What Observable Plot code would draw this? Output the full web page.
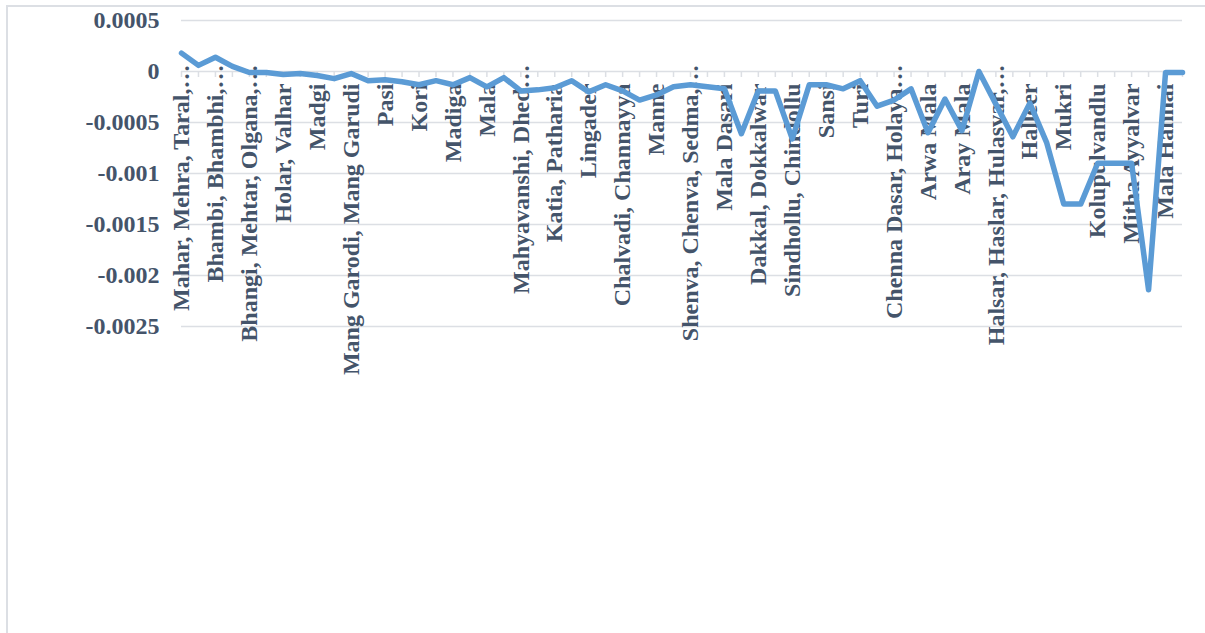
<!DOCTYPE html>
<html>
<head>
<meta charset="utf-8">
<script src="https://cdn.jsdelivr.net/npm/d3@7"></script>
<script src="https://cdn.jsdelivr.net/npm/@observablehq/plot@0.6"></script>
<style>
  html, body { margin: 0; padding: 0; background: #ffffff; }
  #wrap { position: relative; width: 1205px; height: 633px; overflow: hidden; }
  #wrap svg { position: absolute; left: 0; top: 0; }
  #border {
    position: absolute; left: 6px; top: 5px; width: 1210px; height: 640px;
    border-left: 2px solid #dcdfe4; border-top: 2px solid #dcdfe4;
    pointer-events: none;
  }
</style>
</head>
<body>
<div id="wrap"><div id="border"></div></div>
<script>
// Caste groups along the category axis (only every second one is labelled)
const categories = [
  "Mahar, Mehra, Taral,…", "Mang, Matang, Minimadig", "Bhambi, Bhambhi,…", "Dhor, Kakkayya, Kankayya",
  "Bhangi, Mehtar, Olgana,…", "Garoda, Garo", "Holar, Valhar", "Meghval, Menghvar",
  "Madgi", "Balahi, Balai", "Mang Garodi, Mang Garudi", "Bakad, Bant",
  "Pasi", "Vankar, Maru Vankar", "Kori", "Tirgar, Tirbanda",
  "Madiga", "Ager", "Mala", "Koli Dhor, Tankri",
  "Mahyavanshi, Dhed…", "Bahna, Bahana", "Katia, Patharia", "Basor, Burud",
  "Lingader", "Mala Sale, Netkani", "Chalvadi, Channayya", "Khangar, Kanera",
  "Manne", "Ganda, Gandi", "Shenva, Chenva, Sedma,…", "Chikwan, Chikvi",
  "Mala Dasari", "Mala Jangam", "Dakkal, Dokkalwar", "Nadia, Hadi",
  "Sindhollu, Chindollu", "Chuhra", "Sansi", "Mala Masti",
  "Turi", "Anamuk", "Chenna Dasar, Holaya…", "Bindla",
  "Arwa Mala", "Byagara", "Aray Mala", "Mala Sanyasi",
  "Halsar, Haslar, Hulasvar,…", "Mashti", "Halleer", "Kaikadi",
  "Mukri", "Dom, Dumar", "Kolupulvandlu", "Holer",
  "Mitha Ayyalvar", "Chambhar, Mochi", "Mala Hannai", "Dohor"
];

// Value per group
const values = [
  0.00018, 0.00006, 0.00014, 0.00005, -0.00001, -0.00001, -0.00003, -0.00002,
  -0.00004, -0.00007, -0.00002, -0.00009, -0.00008, -0.00010, -0.00013, -0.00009,
  -0.00013, -0.00006, -0.00015, -0.00006, -0.00019, -0.00018, -0.00016, -0.00009,
  -0.00020, -0.00013, -0.00019, -0.00028, -0.00023, -0.00015, -0.00013, -0.00015,
  -0.00017, -0.00061, -0.00019, -0.00019, -0.00066, -0.00013, -0.00013, -0.00017,
  -0.00009, -0.00034, -0.00028, -0.00017, -0.00060, -0.00027, -0.00058, 0.00000,
  -0.00032, -0.00064, -0.00031, -0.00070, -0.00130, -0.00130, -0.00090, -0.00090,
  -0.00090, -0.00214, -0.00001, -0.00001
];

// Value axis
const yTicks = [0.0005, 0, -0.0005, -0.001, -0.0015, -0.002, -0.0025];
const yTickLabels = ["0.0005", "0", "-0.0005", "-0.001", "-0.0015", "-0.002", "-0.0025"];

const rows = categories.map((c, i) => ({category: c, value: values[i]}));
const labelled = categories.filter((c, i) => i % 2 === 0);
const truncated = labelled.filter(c => c.endsWith("…"));
const full = labelled.filter(c => !c.endsWith("…"));

const textColor = "#44546a";
const gridColor = "#dcdfe4";
const lineColor = "#5b9bd5";

const labelStyle = {
  x: d => d,
  y: () => 0,
  text: d => d,
  rotate: -90,
  textAnchor: "end",
  lineAnchor: "middle",
  fill: textColor,
  fontSize: 24,
  fontWeight: "bold"
};

const chart = Plot.plot({
  width: 1205,
  height: 633,
  marginLeft: 181,
  marginRight: 23,
  marginTop: 20,
  marginBottom: 307,
  style: {
    fontFamily: "'Liberation Serif', 'Times New Roman', serif",
    fontSize: "24px",
    fontWeight: "bold",
    color: textColor,
    background: "transparent"
  },
  x: {type: "point", domain: categories, padding: 0, axis: null},
  y: {domain: [-0.0025, 0.0005], axis: null},
  marks: [
    // horizontal gridlines
    Plot.ruleY(yTicks, {stroke: gridColor, strokeWidth: 1.5}),
    // tick marks on the category axis
    Plot.ruleX(categories, {x: d => d, y1: () => 0, y2: () => 0, insetBottom: -6, stroke: gridColor, strokeWidth: 1.5}),
    // value labels
    Plot.axisY({
      ticks: yTicks,
      tickFormat: d => yTickLabels[yTicks.indexOf(d)],
      tickSize: 0,
      tickPadding: 22,
      label: null,
      fill: textColor
    }),
    // category labels, rotated, hanging below the zero line
    Plot.text(full, {...labelStyle, dy: 12}),
    Plot.text(truncated, {...labelStyle, dy: -7}),
    // the series
    Plot.line(rows, {
      x: "category",
      y: "value",
      stroke: lineColor,
      strokeWidth: 5.5,
      strokeLinejoin: "round",
      strokeLinecap: "round"
    })
  ]
});

const wrap = document.getElementById("wrap");
wrap.insertBefore(chart, wrap.firstChild);
</script>
</body>
</html>
